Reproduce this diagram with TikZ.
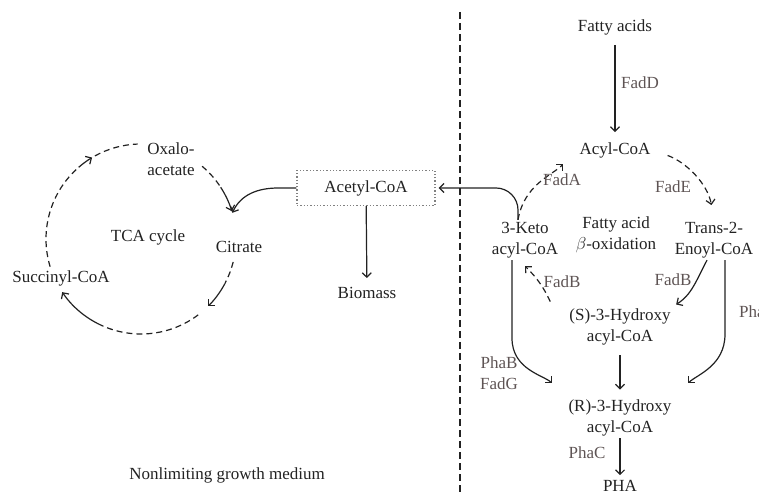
\documentclass[tikz,border=0pt]{standalone}
\usepackage{fontspec}
\setmainfont{Liberation Serif}
\usetikzlibrary{arrows.meta}
\definecolor{ink}{HTML}{222222}
\definecolor{enz}{HTML}{5E5454}
\begin{document}
\begin{tikzpicture}[x=1pt,y=1pt,>={Straight Barb[length=4.5pt,width=9pt]},
  every node/.style={font=\fontsize{17}{21}\selectfont,text=ink,align=center,inner sep=2pt},
  enzyme/.style={text=enz},
  flow/.style={draw=ink,line width=1.2pt},
  dashflow/.style={flow,dash pattern=on 6pt off 4pt}]
\useasboundingbox (0,0) rectangle (759,495);
% divider
\draw[ink,line width=2.8pt,dash pattern=on 7pt off 4pt] (460,483) -- (460,2);
% left half
\coordinate (cyc) at (141,256);
\node (oxalo) at (171,336) {Oxalo-\\acetate};
\node (citrate) at (239,248) {Citrate};
\node (succ) at (61,217) {Succinyl-CoA};
\node (tca) at (148,258) {TCA cycle};
\node[draw=gray,fill=white,dotted,line width=1.3pt,minimum width=138pt,minimum height=35pt] (acetyl) at (366,307) {Acetyl-CoA};
\node (biomass) at (367,202) {Biomass};
\node (medium) at (227,20) {Nonlimiting growth medium};
\coordinate (cin) at ([shift={(16:95)}]cyc);
\draw[dashflow] ([shift={(50:95)}]cyc) arc[start angle=50,end angle=33,radius=95];
\draw[flow,->] ([shift={(33:95)}]cyc) arc[start angle=33,end angle=17,radius=95];
\draw[dashflow] ([shift={(-14:95)}]cyc) arc[start angle=-14,end angle=-28,radius=95];
\draw[flow,->] ([shift={(-28:95)}]cyc) arc[start angle=-28,end angle=-45,radius=95];
\draw[dashflow] ([shift={(-53:95)}]cyc) arc[start angle=-53,end angle=-115,radius=95];
\draw[flow,->] ([shift={(-115:95)}]cyc) arc[start angle=-115,end angle=-146,radius=95];
\draw[dashflow] ([shift={(197:95)}]cyc) arc[start angle=197,end angle=131,radius=95];
\draw[flow,->] ([shift={(131:95)}]cyc) arc[start angle=131,end angle=121,radius=95];
\draw[dashflow] ([shift={(119:95)}]cyc) arc[start angle=119,end angle=92,radius=95];
\draw[flow,->] (acetyl.west) -- ++(-18,0) to[out=180,in=65] (cin);
\draw[flow,->,shorten >=7pt] (acetyl) -- (biomass);
% right half
\node (fatty) at (615,468) {Fatty acids};
\node (acyl) at (615,345) {Acyl-CoA};
\node (keto) at (525,255) {3-Keto\\acyl-CoA};
\node (beta) at (616,260) {Fatty acid\\$\beta$-oxidation};
\node (enoyl) at (714,255) {Trans-2-\\Enoyl-CoA};
\node (shyd) at (620,168) {(S)-3-Hydroxy\\acyl-CoA};
\node (rhyd) at (620,77) {(R)-3-Hydroxy\\acyl-CoA};
\node (pha) at (620,9) {PHA};
\coordinate (ketotop) at ([xshift=-7pt]keto.north);
\draw[flow,->,shorten <=8pt,shorten >=8pt] (fatty) -- (acyl);
\node[enzyme] (fadd) at (640,412) {FadD};
\draw[dashflow,->,shorten <=16pt,shorten >=15pt] (acyl.east) to[out=-20,in=100] (enoyl.north);
\node[enzyme] (fade) at (673,308) {FadE};
\draw[dashflow,->,shorten >=20pt] (ketotop) to[out=80,in=225] (acyl.west);
\node[enzyme] (fada) at (562,315) {FadA};
\draw[flow,->,rounded corners=22pt,shorten >=3pt] (ketotop) |- (acetyl.east);
\draw[dashflow,->] ([shift={(-17pt,5pt)}]shyd.north west) to[bend right=10] ([yshift=-6pt]keto.south);
\node[enzyme] (fadbl) at (562,213) {FadB};
\draw[flow,->,shorten >=4pt] ([xshift=-7pt]enoyl.south) to[out=-118,in=32] (shyd.north east);
\node[enzyme] (fadbr) at (673,215) {FadB};
\draw[flow,->,shorten >=20pt] ([xshift=11pt]enoyl.south) -- ++(0,-74) to[out=-90,in=45] (rhyd.north east);
\node[enzyme,anchor=west] (phaj) at (737,183) {PhaJ};
\draw[flow,->,shorten >=20pt] ([xshift=-13pt]keto.south) -- ++(0,-78) to[out=-90,in=135] (rhyd.north west);
\node[enzyme] (phab) at (499,122) {PhaB\\FadG};
\draw[flow,->,shorten <=8pt,shorten >=8pt] (shyd) -- (rhyd);
\draw[flow,->,shorten >=3pt] (rhyd) -- (pha);
\node[enzyme] (phac) at (587,42) {PhaC};
\end{tikzpicture}
\end{document}
